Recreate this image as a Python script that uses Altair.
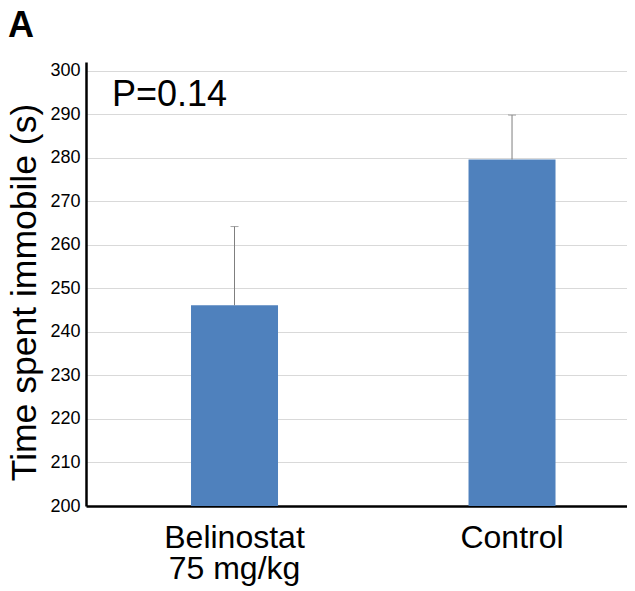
import altair as alt
import pandas as pd

# Data
categories = ["Belinostat\n75 mg/kg", "Control"]
means = [246.1, 279.6]
upper = [264.2, 289.8]
baseline = [200, 200]
y_ticks = list(range(200, 301, 10))
panel_label = "A"
p_text = "P=0.14"
y_title = "Time spent immobile (s)"

FONT = "Liberation Sans"

df = pd.DataFrame({"group": categories, "mean": means, "upper": upper, "base": baseline})

xscale = alt.Scale(domain=categories, paddingInner=0.6865, paddingOuter=0.318, align=0.595)
yscale = alt.Scale(domain=[200, 302], zero=False, nice=False)

x_enc = alt.X(
    "group:N",
    scale=xscale,
    sort=categories,
    axis=alt.Axis(
        title=None,
        labelAngle=0,
        labelFont=FONT,
        labelFontSize=32,
        labelColor="black",
        labelPadding=16,
        labelLineHeight=31,
        labelExpr="split(datum.label, '\\n')",
        ticks=False,
        tickSize=0,
        domainColor="black",
        domainWidth=2.5,
        grid=False,
    ),
)

y_enc = alt.Y(
    "mean:Q",
    scale=yscale,
    axis=alt.Axis(
        values=y_ticks,
        title=y_title,
        titleFont=FONT,
        titleFontSize=35.5,
        titleFontWeight="normal",
        titleColor="black",
        titleAngle=-90,
        titleAlign="center",
        titleBaseline="alphabetic",
        titleX=-51,
        titleY=230,
        labelFont=FONT,
        labelFontSize=18,
        labelColor="black",
        labelPadding=6,
        ticks=False,
        tickSize=0,
        domainColor="black",
        domainWidth=2.5,
        grid=True,
        gridColor="#d9d9d9",
        gridWidth=1,
    ),
)

base = alt.Chart(df)

bars = base.mark_bar(color="#4F81BD").encode(
    x=x_enc,
    y=y_enc,
    y2="base:Q",
)

err = base.mark_rule(color="#7f7f7f", strokeWidth=1).encode(
    x=x_enc,
    y=alt.Y("mean:Q", scale=yscale),
    y2="upper:Q",
)

cap = base.mark_tick(color="#7f7f7f", size=8, thickness=1).encode(
    x=x_enc,
    y=alt.Y("upper:Q", scale=yscale),
)

ptxt = alt.Chart(pd.DataFrame({"t": [p_text]})).mark_text(
    align="left", baseline="alphabetic", fontSize=36, font=FONT, color="black"
).encode(x=alt.value(26), y=alt.value(44), text="t:N")

atxt = alt.Chart(pd.DataFrame({"t": [panel_label]})).mark_text(
    align="left", baseline="alphabetic", fontSize=36, font=FONT, fontWeight="bold", color="black"
).encode(x=alt.value(-78), y=alt.value(-25), text="t:N")

chart = (
    alt.layer(bars, err, cap, ptxt, atxt)
    .properties(
        width=541,
        height=444,
        padding={"left": 78, "top": 54, "right": 0, "bottom": 80},
        autosize="none",
    )
    .configure_view(stroke=None)
)

chart.save("out.html", embed_options={"renderer": "svg", "actions": False})
